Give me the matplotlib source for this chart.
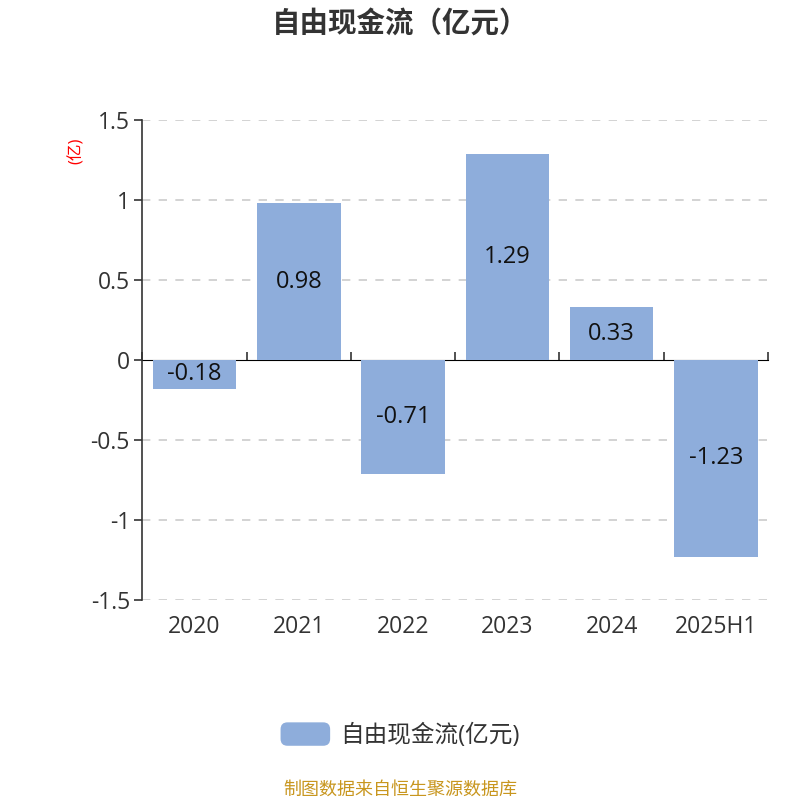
import numpy as np
import matplotlib.pyplot as plt
from matplotlib.patches import FancyBboxPatch, Patch
from matplotlib.legend_handler import HandlerPatch

plt.rcParams['font.family'] = ['Open Sans', 'Noto Sans CJK SC', 'DejaVu Sans']

# data
years = ['2020', '2021', '2022', '2023', '2024', '2025H1']
fcf = [-0.18, 0.98, -0.71, 1.29, 0.33, -1.23]
yticks = [-1.5, -1, -0.5, 0, 0.5, 1, 1.5]
ytick_labels = ['-1.5', '-1', '-0.5', '0', '0.5', '1', '1.5']

bar_color = '#8eaddb'
text_color = '#333333'

fig = plt.figure(figsize=(8, 8), dpi=100)
ax = fig.add_axes([0.178, 0.25, 0.782, 0.6])

x = np.arange(len(years))
ax.bar(x, fcf, width=0.8, color=bar_color, zorder=3)
for xi, v in zip(x, fcf):
    ax.text(xi, v / 2, f'{v:.2f}', ha='center', va='center', fontsize=17, color='#111111', zorder=4)

ax.set_xlim(-0.5, len(years) - 0.5)
ax.set_ylim(-1.5, 1.5)
ax.set_yticks(yticks)
ax.set_yticklabels(ytick_labels)
ax.tick_params(axis='y', length=6, width=1.2, color=text_color, labelsize=16.5, labelcolor=text_color, pad=3)

# category labels at bottom, axis line drawn at zero
ax.set_xticks(x)
ax.set_xticklabels(years)
ax.tick_params(axis='x', length=0, labelsize=16.5, labelcolor=text_color, pad=11)
for s in ['top', 'right', 'bottom']:
    ax.spines[s].set_visible(False)
ax.spines['left'].set_color(text_color)
ax.spines['left'].set_linewidth(1.2)

zero_ax = ax.secondary_xaxis(0.5)
zero_ax.set_xticks(np.arange(-0.5, len(years), 1.0))
zero_ax.set_xticklabels([])
zero_ax.tick_params(axis='x', direction='out', length=6, width=1.2, color=text_color)
zero_ax.spines['bottom'].set_color(text_color)
zero_ax.spines['bottom'].set_linewidth(1.2)

for t in yticks:
    if t != 0:
        ax.axhline(t, color='#cccccc', linestyle=(0, (5, 5)), linewidth=1.2, zorder=1)

ax.text(-0.105, 0.935, '(亿)', transform=ax.transAxes, rotation=90, color='red',
        fontsize=12, ha='center', va='center')

fig.text(0.5, 0.969, '自由现金流（亿元）', ha='center', va='center', fontsize=20.5,
         fontweight='bold', color=text_color)


class RoundHandler(HandlerPatch):
    def create_artists(self, legend, orig_handle, xdescent, ydescent, width, height, fontsize, trans):
        p = FancyBboxPatch((-xdescent, -ydescent), width, height,
                           boxstyle='round,pad=0,rounding_size=5',
                           facecolor=orig_handle.get_facecolor(), edgecolor='none', transform=trans)
        return [p]


h = Patch(facecolor=bar_color, label='自由现金流(亿元)')
fig.legend(handles=[h], loc='center', bbox_to_anchor=(0.5, 0.081), frameon=False,
           fontsize=17, labelcolor=text_color, handlelength=2.1, handleheight=1.15,
           handletextpad=0.42, handler_map={Patch: RoundHandler()})

fig.text(0.5, 0.0125, '制图数据来自恒生聚源数据库', ha='center', va='center', fontsize=13, color='#c8961e')

fig.savefig('out.png', dpi=100)
